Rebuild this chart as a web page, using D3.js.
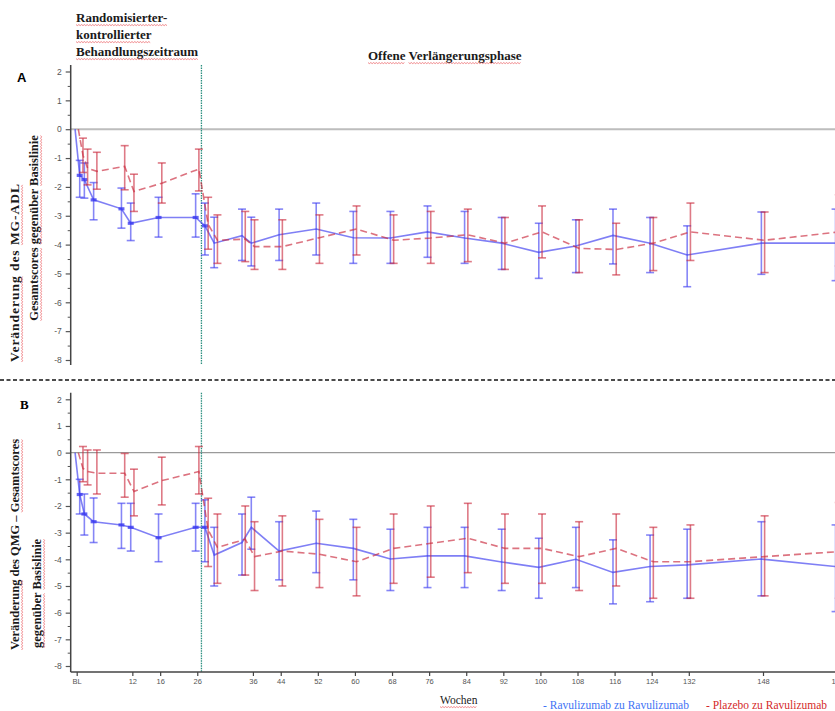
<!DOCTYPE html>
<html>
<head>
<meta charset="utf-8">
<script src="https://cdn.jsdelivr.net/npm/d3@7"></script>
<style>
  body { margin: 0; background: #fff; }
  .tick text { font-family: "Liberation Sans", Arial, sans-serif; fill: #555; }
  .serif { font-family: "Liberation Serif", "Times New Roman", serif; }
</style>
</head>
<body>
<div id="chart"></div>
<script>
// weeks of the visits
const weeks = [0, 1, 2, 4, 10, 12, 18, 26, 28, 30, 36, 38, 44, 52, 60, 68, 76, 84, 92, 100, 108, 116, 124, 132, 148, 164]

// A: MG-ADL, Ravulizumab zu Ravulizumab
const adlRavMean = [0, -1.6, -1.75, -2.45, -2.76, -3.26, -3.06, -3.06, -3.35, -3.95, -3.69, -3.95, -3.66, -3.46, -3.76, -3.77, -3.56, -3.77, -3.95, -4.27, -4.05, -3.68, -3.95, -4.36, -3.95, -3.95]
const adlRavHi   = [0, -1.08, -1.17, -1.85, -2.04, -2.56, -2.36, -2.24, -2.56, -3.05, -2.77, -3.05, -2.77, -2.56, -2.85, -2.85, -2.66, -2.85, -3.06, -3.26, -3.14, -2.77, -3.06, -3.35, -2.87, -2.77]
const adlRavLo   = [0, -2.36, -2.39, -3.14, -3.43, -3.86, -3.74, -3.74, -4.36, -4.8, -4.55, -4.74, -4.55, -4.36, -4.65, -4.65, -4.44, -4.65, -4.86, -5.17, -4.97, -4.67, -4.97, -5.46, -5.03, -5.25]
// A: MG-ADL, Plazebo zu Ravulizumab
const adlPlaMean = [0, -0.9, -1.35, -1.46, -1.29, -2.16, -1.87, -1.38, -3.3, -3.85, -3.81, -4.07, -4.07, -3.76, -3.46, -3.85, -3.77, -3.66, -3.95, -3.56, -4.13, -4.17, -3.95, -3.56, -3.85, -3.56]
const adlPlaHi   = [0, -0.31, -0.69, -0.8, -0.57, -1.56, -1.17, -0.69, -2.36, -2.97, -2.85, -3.14, -3.14, -2.97, -2.66, -2.97, -2.85, -2.77, -3.06, -2.66, -3.14, -3.26, -3.06, -2.56, -2.87, -2.27]
const adlPlaLo   = [0, -1.5, -1.93, -2.08, -2.1, -2.85, -2.56, -2.14, -4.16, -4.65, -4.59, -4.86, -4.86, -4.65, -4.36, -4.65, -4.65, -4.59, -4.86, -4.46, -4.97, -5.05, -4.9, -4.55, -4.97, -4.74]

// B: QMG, Ravulizumab zu Ravulizumab
const qmgRavMean = [0, -1.57, -2.3, -2.59, -2.71, -2.8, -3.19, -2.8, -2.8, -3.84, -3.37, -2.8, -3.69, -3.4, -3.59, -3.99, -3.87, -3.87, -4.1, -4.3, -4.0, -4.49, -4.27, -4.21, -3.99, -4.27]
const qmgRavHi   = [0, -1.0, -1.55, -1.7, -1.9, -1.9, -2.3, -1.9, -1.77, -2.8, -2.3, -1.67, -2.59, -2.19, -2.5, -2.87, -2.8, -2.8, -2.87, -3.21, -2.8, -3.27, -3.09, -2.87, -2.59, -2.71]
const qmgRavLo   = [0, -2.3, -3.09, -3.37, -3.59, -3.69, -4.09, -3.69, -4.09, -5.0, -4.59, -3.62, -4.77, -4.5, -4.77, -5.17, -5.06, -5.06, -5.17, -5.46, -5.06, -5.67, -5.59, -5.46, -5.37, -5.96]
// B: QMG, Plazebo zu Ravulizumab
const qmgPlaMean = [0, -0.59, -0.71, -0.77, -0.77, -1.46, -1.05, -0.71, -2.9, -3.55, -3.25, -3.9, -3.69, -3.81, -4.09, -3.59, -3.4, -3.21, -3.59, -3.59, -3.9, -3.59, -4.09, -4.09, -3.9, -3.71]
const qmgPlaHi   = [0, 0.23, 0.1, 0.1, -0.03, -0.62, -0.17, 0.23, -1.71, -2.3, -2.0, -2.59, -2.37, -2.5, -2.8, -2.3, -2.0, -1.9, -2.3, -2.3, -2.59, -2.3, -2.8, -2.71, -2.37, -1.87]
const qmgPlaLo   = [0, -1.09, -1.21, -1.55, -1.67, -2.37, -1.96, -1.55, -4.27, -4.9, -4.59, -5.17, -5.0, -5.06, -5.37, -4.9, -4.67, -4.5, -4.9, -4.9, -5.17, -5.0, -5.46, -5.46, -5.37, -5.46]

// x axis ticks
const tickWeeks  = [0, 12, 18, 26, 38, 44, 52, 60, 68, 76, 84, 92, 100, 108, 116, 124, 132, 148, 164]
const tickLabels = ["BL", "12", "16", "26", "36", "44", "52", "60", "68", "76", "84", "92", "100", "108", "116", "124", "132", "148", "164"]
const yTicks = d3.range(-8, 3)

// end of the randomised period
const boundaryWeek = 26.9

const width = 835, height = 711
const blue = "#3b3bf0", red = "#c9283c"

const svg = d3.select("#chart")
  .append("svg")
    .attr("width", width)
    .attr("height", height)

const x = d3.scaleLinear()
    .domain([0, 148])
    .range([76.7, 763])
const xLeft = x.invert(70.7)

const yA = d3.scaleLinear().domain([-8, 2]).range([360, 71.5])
const yB = d3.scaleLinear().domain([-8, 2]).range([666, 399.3])

function series(mean, hi, lo) {
  return weeks.map((w, i) => ({w: w, m: mean[i], hi: hi[i], lo: lo[i]}))
}

// little red spell-check wave under a word
function squiggle(g, textEl, word) {
  const node = textEl.node()
  const s = node.textContent
  let from = s.indexOf(word)
  while (from >= 0) {
    const a = node.getStartPositionOfChar(from)
    const b = node.getEndPositionOfChar(from + word.length - 1)
    const y0 = a.y + 2.6
    let d = "M" + a.x + "," + y0
    let k = 0
    for (let xx = a.x + 1.4; xx <= b.x; xx += 1.4) {
      k++
      d += "L" + xx + "," + (y0 + (k % 2 ? 1 : 0))
    }
    g.append("path").attr("d", d)
      .attr("fill", "none")
      .attr("stroke", "#e8474b")
      .attr("stroke-opacity", 0.8)
      .attr("stroke-width", 0.8)
    from = s.indexOf(word, from + word.length)
  }
}

function drawPanel(y, top, bottom, rav, pla, withXAxis) {
  const g = svg.append("g")

  // zero line
  g.append("line")
    .attr("x1", x(xLeft)).attr("x2", width)
    .attr("y1", y(0)).attr("y2", y(0))
    .attr("stroke", withXAxis ? "#9a9a9a" : "#bdbdbd")
    .attr("stroke-width", withXAxis ? 1.2 : 2)

  // vertical line at the end of the randomised period
  g.append("line")
    .attr("x1", x(boundaryWeek)).attr("x2", x(boundaryWeek))
    .attr("y1", top).attr("y2", bottom)
    .attr("stroke", "#2b8f7f")
    .attr("stroke-width", 1.3)
    .attr("stroke-dasharray", "1.5,1")

  // y axis: major + minor ticks
  g.append("g")
    .attr("transform", "translate(" + x(xLeft) + ",0)")
    .call(d3.axisLeft(y).tickValues(yTicks).tickSize(5).tickPadding(4).tickFormat(d => String(d)))
    .call(a => a.select(".domain").remove())
    .call(a => a.selectAll("line").attr("stroke", "#555").attr("stroke-width", 1.2))
    .call(a => a.selectAll("text").attr("font-size", 8.5))
  g.append("g")
    .attr("transform", "translate(" + x(xLeft) + ",0)")
    .call(d3.axisLeft(y).tickValues(d3.range(-7.5, 2, 1)).tickSize(3).tickFormat(""))
    .call(a => a.select(".domain").remove())
    .call(a => a.selectAll("line").attr("stroke", "#555").attr("stroke-width", 1))
  g.append("line")
    .attr("x1", x(xLeft)).attr("x2", x(xLeft))
    .attr("y1", top).attr("y2", bottom)
    .attr("stroke", "#444").attr("stroke-width", 1.5)

  if (withXAxis) {
    g.append("g")
      .attr("transform", "translate(0," + bottom + ")")
      .call(d3.axisBottom(x).tickValues(tickWeeks).tickSize(4).tickPadding(3)
        .tickFormat((d, i) => tickLabels[i]))
      .call(a => a.select(".domain").remove())
      .call(a => a.selectAll("line").attr("stroke", "#444").attr("stroke-width", 1.2))
      .call(a => a.selectAll("text").attr("font-size", 7.5).attr("fill", "#666"))
    g.append("line")
      .attr("x1", x(xLeft)).attr("x2", width)
      .attr("y1", bottom).attr("y2", bottom)
      .attr("stroke", "#444").attr("stroke-width", 1.5)
  }

  const groups = [
    {data: rav, color: blue, off: -0.35, dash: null},
    {data: pla, color: red, off: 0.35, dash: "7,4"}
  ]

  groups.forEach(s => {
    const gg = g.append("g")
    const bars = s.data.filter(d => d.w > 0)
    const cap = 4

    gg.selectAll(".eb")
      .data(bars)
      .enter().append("line")
        .attr("x1", d => x(d.w + s.off)).attr("x2", d => x(d.w + s.off))
        .attr("y1", d => y(d.hi)).attr("y2", d => y(d.lo))
        .attr("stroke", s.color).attr("stroke-opacity", 0.62).attr("stroke-width", 1.6)
    ;["hi", "lo"].forEach(k => {
      gg.selectAll(".cap-" + k)
        .data(bars)
        .enter().append("line")
          .attr("x1", d => x(d.w + s.off) - cap).attr("x2", d => x(d.w + s.off) + cap)
          .attr("y1", d => y(d[k])).attr("y2", d => y(d[k]))
          .attr("stroke", s.color).attr("stroke-opacity", 0.62).attr("stroke-width", 1.6)
    })

    gg.append("path")
      .datum(s.data)
      .attr("fill", "none")
      .attr("stroke", s.color)
      .attr("stroke-opacity", 0.65)
      .attr("stroke-width", 1.6)
      .attr("stroke-dasharray", s.dash)
      .attr("d", d3.line().x(d => x(d.w + s.off)).y(d => y(d.m)))

    if (s.color === blue) {
      gg.selectAll(".mk")
        .data(s.data.filter(d => d.w > 0 && d.w <= 28))
        .enter().append("rect")
          .attr("x", d => x(d.w + s.off) - 3)
          .attr("y", d => y(d.m) - 1.6)
          .attr("width", 6).attr("height", 3.2)
          .attr("fill", blue).attr("fill-opacity", 0.8)
    }
  })
}

drawPanel(yA, 65, 365,
  series(adlRavMean, adlRavHi, adlRavLo),
  series(adlPlaMean, adlPlaHi, adlPlaLo), false)
drawPanel(yB, 392.7, 672,
  series(qmgRavMean, qmgRavHi, qmgRavLo),
  series(qmgPlaMean, qmgPlaHi, qmgPlaLo), true)

// separator between the panels
svg.append("line")
  .attr("x1", 0).attr("x2", width)
  .attr("y1", 380).attr("y2", 380)
  .attr("stroke", "#111").attr("stroke-width", 1.5)
  .attr("stroke-dasharray", "4,2.5")

// headings
const head = svg.append("g").attr("class", "serif")
  .attr("font-weight", "bold").attr("font-size", 13).attr("fill", "#1a1a1a")
;[["Randomisierter-", 22], ["kontrollierter", 39], ["Behandlungszeitraum", 56]].forEach(h => {
  const t = head.append("text").attr("x", 76).attr("y", h[1]).text(h[0])
  squiggle(head, t, h[0])
})
const offen = head.append("text").attr("x", 368).attr("y", 60).text("Offene Verlängerungsphase")
squiggle(head, offen, "Offene")
squiggle(head, offen, "Verlängerungsphase")

svg.append("text").attr("x", 17).attr("y", 82)
  .attr("font-family", "Liberation Sans, Arial, sans-serif")
  .attr("font-weight", "bold").attr("font-size", 13).text("A")
svg.append("text").attr("x", 20).attr("y", 409).attr("class", "serif")
  .attr("font-weight", "bold").attr("font-size", 13).text("B")

// y titles
function yTitle(str, tx, ty, anchor, words, size, len) {
  const g = svg.append("g").attr("class", "serif")
    .attr("transform", "translate(" + tx + "," + ty + ") rotate(-90)")
    .attr("font-weight", "bold").attr("font-size", size).attr("fill", "#1a1a1a")
  const t = g.append("text").attr("text-anchor", anchor).text(str)
  if (len) t.attr("textLength", len).attr("lengthAdjust", "spacing")
  words.forEach(w => squiggle(g, t, w))
}
yTitle("Veränderung des MG-ADL", 19, 362, "start", ["Veränderung", "MG-ADL"], 13.5, 178)
yTitle("Gesamtscores gegenüber Basislinie", 38, 228, "middle", ["Gesamtscores", "gegenüber", "Basislinie"], 12.5)
yTitle("Veränderung des QMG – Gesamtscores", 19, 650, "start", ["Veränderung", "Gesamtscores"], 12.5)
yTitle("gegenüber Basislinie", 41, 648, "start", ["gegenüber", "Basislinie"], 12.5)

// x title and legend
const foot = svg.append("g").attr("class", "serif").attr("font-size", 11.5)
const wo = foot.append("text").attr("x", 440).attr("y", 704).attr("fill", "#222").text("Wochen")
squiggle(foot, wo, "Wochen")
const l1 = foot.append("text").attr("x", 543).attr("y", 709).attr("fill", "#4173f5").text("- Ravulizumab zu Ravulizumab")
squiggle(foot, l1, "Ravulizumab")
const l2 = foot.append("text").attr("x", 706).attr("y", 709).attr("fill", "#d42a2a").text("- Plazebo zu Ravulizumab")
squiggle(foot, l2, "Plazebo")
squiggle(foot, l2, "Ravulizumab")
</script>
</body>
</html>
